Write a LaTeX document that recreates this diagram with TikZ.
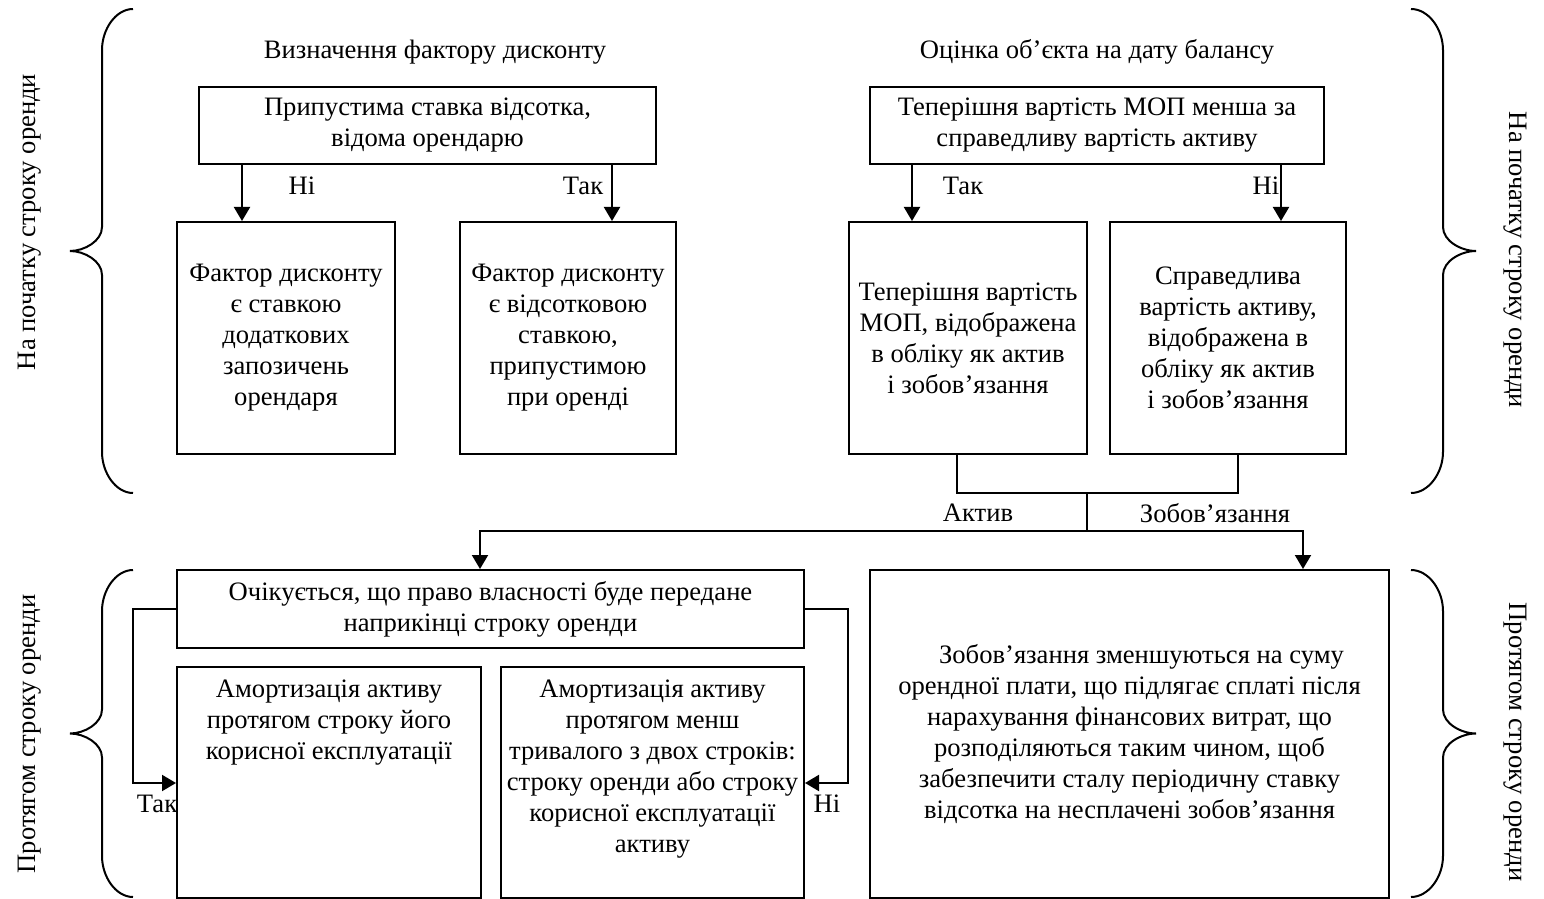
\documentclass[tikz,border=0pt]{standalone}
\usepackage{fontspec}
\setmainfont{Liberation Serif}
\usetikzlibrary{arrows.meta}
\newcommand\mybrace[5]{%
 \pgfmathsetmacro\brM{(#4+#5)/2}%
 \pgfmathsetmacro\brD{#1-#2}%
 \pgfmathsetmacro\brT{#2-#3}%
 \draw[brc] (#1,#4) .. controls ({#2+0.45*\brD},#4) and (#2,{#4+20}) .. (#2,{#4+41})
   -- (#2,{\brM-24}) .. controls (#2,{\brM-10}) and ({#3+0.45*\brT},\brM) .. (#3,\brM)
   .. controls ({#3+0.45*\brT},\brM) and (#2,{\brM+10}) .. (#2,{\brM+24})
   -- (#2,{#5-41}) .. controls (#2,{#5-20}) and ({#2+0.45*\brD},#5) .. (#1,#5);%
}
\begin{document}
\begin{tikzpicture}[x=0.5pt,y=-0.5pt,
  every node/.style={font=\fontsize{13.3pt}{15.5pt}\selectfont, inner sep=0pt},
  box/.style={draw, line width=1pt, align=center},
  ln/.style={line width=1pt},
  arr/.style={line width=1pt, -{Triangle[length=7pt,width=8pt]}},
  brc/.style={line width=1pt}
]
\useasboundingbox (0,0) rectangle (1544,899);

% titles
\node (t1) at (435,52) {Визначення фактору дисконту};
\node (t2) at (1097,52) {Оцінка об’єкта на дату балансу};

% top boxes
\node[box, minimum width=228.5pt, minimum height=38.5pt] (A) at (427.5,125.5) {Припустима ставка відсотка,\\відома орендарю};
\node[box, minimum width=109pt, minimum height=116pt] (B) at (286,338) {Фактор дисконту\\є ставкою\\додаткових\\запозичень\\орендаря};
\node[box, minimum width=108pt, minimum height=116pt] (C) at (568,338) {Фактор дисконту\\є відсотковою\\ставкою,\\припустимою\\при оренді};
\node[box, minimum width=227pt, minimum height=38.5pt] (D) at (1097,125.5) {Теперішня вартість МОП менша за\\справедливу вартість активу};
\node[box, minimum width=119pt, minimum height=116pt] (E) at (968,338) {Теперішня вартість\\МОП, відображена\\в обліку як актив\\і зобов’язання};
\node[box, minimum width=118pt, minimum height=116pt] (F) at (1228,338) {Справедлива\\вартість активу,\\відображена в\\обліку як актив\\і зобов’язання};

% bottom boxes
\node[box, minimum width=313.5pt, minimum height=39pt] (G) at (490.5,609) {Очікується, що право власності буде передане\\наприкінці строку оренди};
\node[box, minimum width=152pt, minimum height=115.5pt] (H) at (329,782.5) {};
\node[align=center, anchor=north] (Ht) at (329,679) {Амортизація активу\\протягом строку його\\корисної експлуатації};
\node[box, minimum width=151.5pt, minimum height=115.5pt] (I) at (652.5,782.5) {};
\node[align=center, anchor=north] (It) at (652.5,679) {Амортизація активу\\протягом менш\\тривалого з двох строків:\\строку оренди або строку\\корисної експлуатації\\активу};
\node[box, minimum width=259.5pt, minimum height=164pt] (J) at (1129.5,734) {\hspace*{12pt}Зобов’язання зменшуються на суму\\орендної плати, що підлягає сплаті після\\нарахування фінансових витрат, що\\розподіляються таким чином, щоб\\забезпечити сталу періодичну ставку\\відсотка на несплачені зобов’язання};

% helper coordinates
\coordinate (xa1) at (242,0);
\coordinate (xa2) at (612,0);
\coordinate (xd1) at (912,0);
\coordinate (xd2) at (1281,0);
\coordinate (m1) at (957,493);
\coordinate (m2) at (1238,493);
\coordinate (mc) at (1087,493);
\coordinate (mc2) at (1087,531);
\coordinate (gL) at (480,531);
\coordinate (jR) at (1303,531);
\coordinate (tk1) at (133,609);
\coordinate (tk2) at (133,783);
\coordinate (ni1) at (848,609);
\coordinate (ni2) at (848,783);

% arrows top
\draw[arr] (A.south -| xa1) -- (B.north -| xa1);
\draw[arr] (A.south -| xa2) -- (C.north -| xa2);
\draw[arr] (D.south -| xd1) -- (E.north -| xd1);
\draw[arr] (D.south -| xd2) -- (F.north -| xd2);
\node (n1) at (302,186) {Ні};
\node (y1) at (583,186) {Так};
\node (y2) at (963,186) {Так};
\node (n2) at (1266,186) {Ні};

% middle connection
\draw[ln] (E.south -| m1) -- (m1) -- (m2) -- (F.south -| m2);
\draw[ln] (mc) -- (mc2);
\draw[arr] (mc2) -- (gL) -- (G.north -| gL);
\draw[arr] (mc2) -- (jR) -- (J.north -| jR);
\node (la) at (978,513) {Актив};
\node (lz) at (1215,513) {Зобов’язання};

% bottom branches
\draw[arr] (G.west |- tk1) -- (tk1) -- (tk2) -- (H.west |- tk2);
\draw[arr] (G.east |- ni1) -- (ni1) -- (ni2) -- (I.east |- ni2);
\node (y3) at (157,804) {Так};
\node (n3) at (827,804) {Ні};

% braces
\mybrace{133}{102}{70}{9}{493}
\mybrace{1411}{1443}{1476}{9}{493}
\mybrace{133}{102}{70}{570}{897}
\mybrace{1411}{1443}{1476}{570}{897}

% side labels
\node[rotate=90] (s1) at (30,222) {На початку строку оренди};
\node[rotate=-90] (s2) at (1515,260) {На початку строку оренди};
\node[rotate=90] (s3) at (30,734) {Протягом строку оренди};
\node[rotate=-90] (s4) at (1515,742) {Протягом строку оренди};
\end{tikzpicture}
\end{document}
